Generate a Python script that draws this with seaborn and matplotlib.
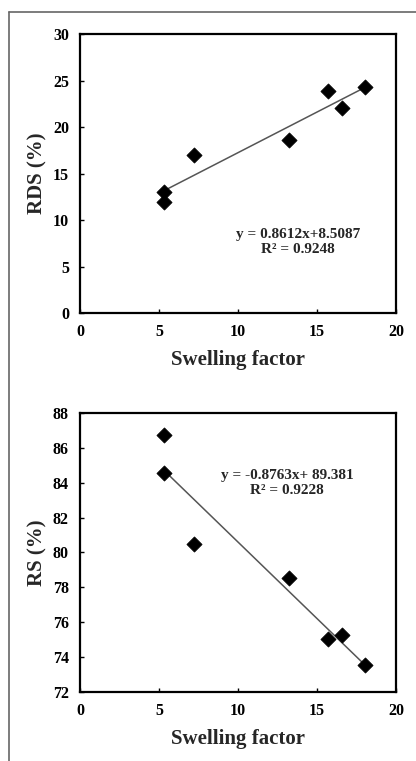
import matplotlib
matplotlib.use('Agg')
from matplotlib import pyplot as plt
from matplotlib.lines import Line2D
import seaborn as sns
import pandas as pd

# swelling factor (shared x for both panels)
swelling = [5.34, 5.34, 7.24, 13.25, 15.72, 16.56, 18.04]
rds = [12.97, 11.89, 17.0, 18.6, 23.9, 22.03, 24.33]
rs = [84.57, 86.72, 80.49, 78.51, 75.03, 75.26, 73.53]

rds_eq = ['y = 0.8612x+8.5087', 'R² = 0.9248']
rs_eq = ['y = -0.8763x+ 89.381', 'R² = 0.9228']

data = pd.DataFrame({'swelling': swelling, 'rds': rds, 'rs': rs})

sns.set_style('ticks')
plt.rcParams['font.family'] = ['Liberation Serif', 'DejaVu Serif']
plt.rcParams['font.weight'] = 'bold'
plt.rcParams['xtick.direction'] = 'in'
plt.rcParams['ytick.direction'] = 'in'

fig = plt.figure(figsize=(4.16, 7.61), dpi=100)
ax1 = fig.add_axes([0.1923, 0.5887, 0.7596, 0.3666])
ax2 = fig.add_axes([0.1923, 0.0907, 0.7596, 0.3666])


def panel(ax, col, ylabel, ylim, yticks, eq, eqpos):
    sns.regplot(x='swelling', y=col, data=data, ax=ax, ci=None, scatter=False,
                truncate=True, line_kws={'color': '#555555', 'lw': 1.1})
    sns.scatterplot(x='swelling', y=col, data=data, ax=ax, marker='D', s=60,
                    color='black', edgecolor='black', linewidth=0.5, zorder=3)
    ax.set_xlim(0, 20)
    ax.set_ylim(*ylim)
    ax.set_xticks([0, 5, 10, 15, 20])
    ax.set_yticks(yticks)
    ax.tick_params(length=3, width=1, labelsize=11.5, pad=8, colors='black')
    for lab in ax.get_xticklabels() + ax.get_yticklabels():
        lab.set_fontweight('bold')
    for sp in ax.spines.values():
        sp.set_linewidth(1.6)
        sp.set_color('black')
    ax.set_xlabel('Swelling factor', fontsize=15, fontweight='bold', labelpad=7)
    ax.set_ylabel(ylabel, fontsize=15, fontweight='bold', labelpad=4)
    ax.text(eqpos[0], eqpos[1], '\n'.join(eq), ha='center', va='center',
            fontsize=11, fontweight='bold', linespacing=1.2)


panel(ax1, 'rds', 'RDS (%)', (0, 30), [0, 5, 10, 15, 20, 25, 30], rds_eq, (13.8, 7.65))
panel(ax2, 'rs', 'RS (%)', (72, 88), list(range(72, 89, 2)), rs_eq, (13.1, 84.0))

# outer frame of the source image (top and left edges)
fig.add_artist(Line2D([9 / 416, 1], [1 - 12 / 761, 1 - 12 / 761],
                      color='#666666', lw=1.2, transform=fig.transFigure))
fig.add_artist(Line2D([9 / 416, 9 / 416], [0, 1 - 12 / 761],
                      color='#666666', lw=1.2, transform=fig.transFigure))

fig.savefig('out.png', dpi=100)
